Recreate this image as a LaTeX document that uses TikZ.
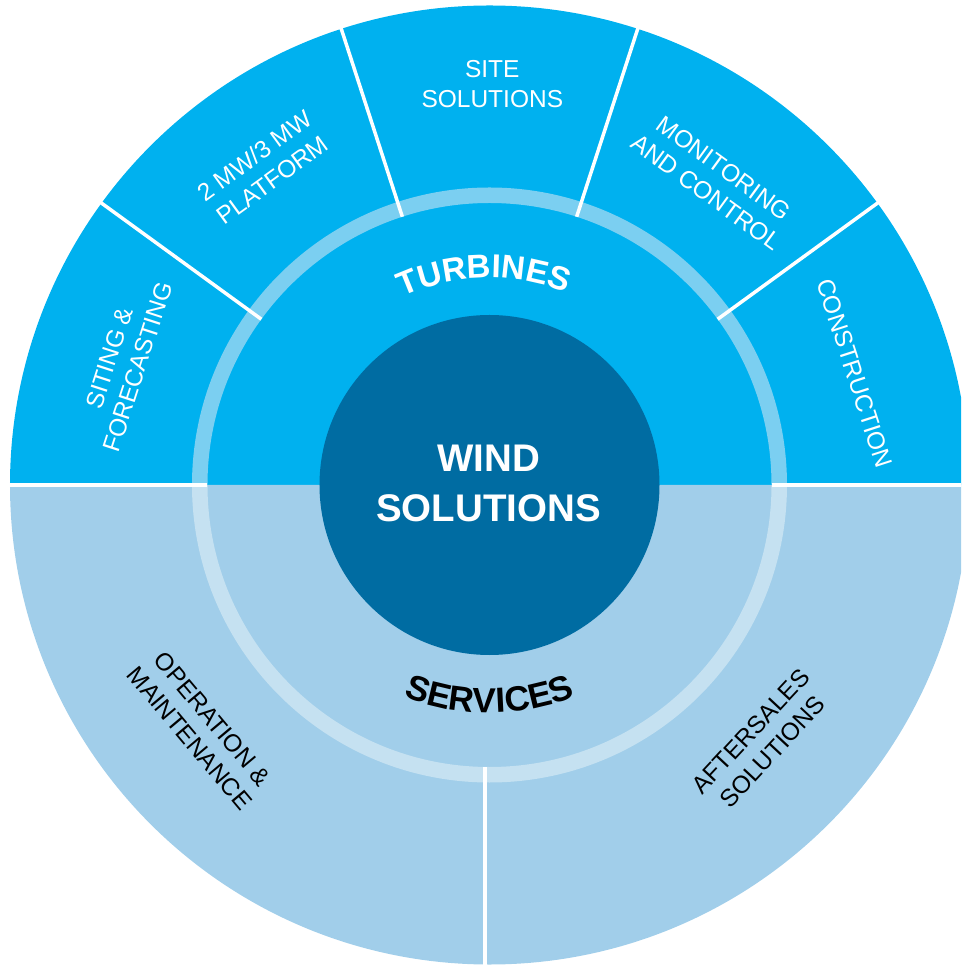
\documentclass[tikz,border=0pt]{standalone}
\usepackage{fontspec}
\setmainfont{Liberation Sans}
\usetikzlibrary{decorations.text}
\definecolor{topblue}{RGB}{0,177,239}
\definecolor{botblue}{RGB}{161,206,234}
\definecolor{bandtop}{RGB}{123,207,241}
\definecolor{bandbot}{RGB}{197,225,241}
\definecolor{corecol}{RGB}{0,108,162}
\newcommand\turbfont{\bfseries\fontsize{33}{33}\selectfont}
\newcommand\servfont{\bfseries\fontsize{35}{35}\selectfont}
\begin{document}
\begin{tikzpicture}[x=1pt,y=1pt,
  divider/.style={draw=white,line width=3.5pt},
  seglabel/.style={font=\fontsize{24.5}{30}\selectfont,align=center,inner sep=0pt},
  toplabel/.style={seglabel,text=white},
  botlabel/.style={seglabel,text=black}]
\def\R{479.5}
\useasboundingbox (-489.5,-480) rectangle (471.5,485);
\clip (-489.5,-480) rectangle (471.5,485);
% halves
\fill[topblue] (0:\R) arc[start angle=0,end angle=180,radius=\R] -- cycle;
\fill[botblue] (180:\R) arc[start angle=180,end angle=360,radius=\R] -- cycle;
% band
\draw[bandtop,line width=15.5pt] (0:289.75) arc[start angle=0,end angle=180,radius=289.75];
\draw[bandbot,line width=15.5pt] (180:289.75) arc[start angle=180,end angle=360,radius=289.75];
% dividers
\foreach \a in {0,36,72,108,144,180}
  \draw[divider] (\a:282) -- (\a:\R+8);
\coordinate (vdivA) at (-4.5,-282);
\coordinate (vdivB) at (-4.5,-490);
\draw[divider] (vdivA) -- (vdivB);
% core
\fill[corecol] (0,0) circle[radius=170];
\node[font=\bfseries\fontsize{38.5}{50}\selectfont,text=white,align=center,inner sep=0pt] (wind) at (-1,1.5) {WIND\\SOLUTIONS};
% curved titles
\path[decorate,decoration={text along path,text={|\color{white}\turbfont|TURBINES},text align=center,text color=white}]
  (151.5:207) arc[start angle=151.5,end angle=31.5,radius=207];
\path[decorate,decoration={text along path,text={|\color{black}\servfont|SERVICES},text align=center,text color=black}]
  (210:228) arc[start angle=210,end angle=330,radius=228];
% segment labels
\node[toplabel] (site) at (89.6:401) {SITE\\SOLUTIONS};
\node[toplabel,rotate=36] (platform) at (125.5:389.6) {2 MW/3 MW\\PLATFORM};
\node[toplabel,rotate=72] (siting) at (161.5:386) {SITING \&\\FORECASTING};
\node[toplabel,rotate=-36] (monitor) at (53.5:379) {MONITORING\\AND CONTROL};
\node[toplabel,rotate=-72] (constr) at (17:382) {CONSTRUCTION};
\node[botlabel,rotate=-50] (oper) at (220.2:377.5) {OPERATION \&\\MAINTENANCE};
\node[botlabel,rotate=47] (after) at (316.7:374) {AFTERSALES\\SOLUTIONS};
\end{tikzpicture}
\end{document}
